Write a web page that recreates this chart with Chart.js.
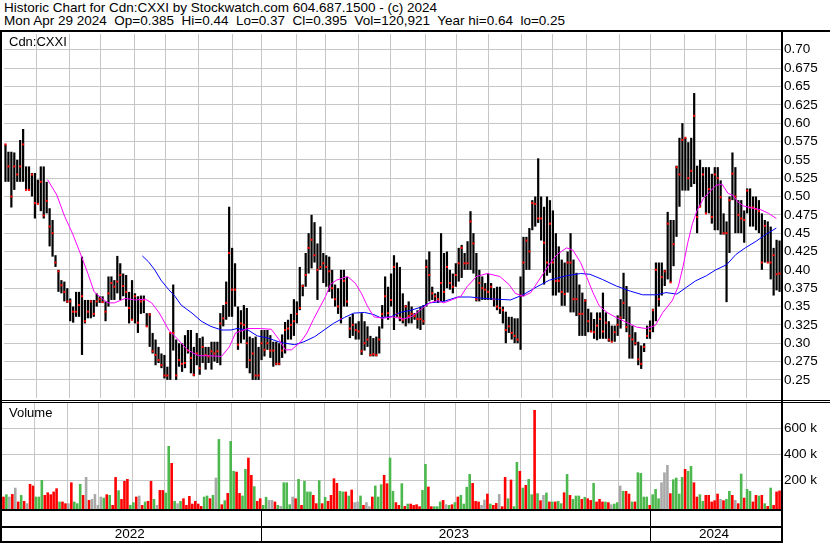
<!DOCTYPE html>
<html><head><meta charset="utf-8">
<script src="https://cdn.jsdelivr.net/npm/chart.js@4.4.1/dist/chart.umd.min.js"></script>
<style>
html,body{margin:0;padding:0;background:#fff;}
body{width:830px;height:543px;position:relative;overflow:hidden;font-family:"Liberation Sans",Arial,sans-serif;color:#000;}
.hd{position:absolute;left:4px;font-size:13.5px;line-height:13px;white-space:pre;}
.lab{position:absolute;left:9px;font-size:13px;line-height:13px;white-space:pre;}
.ln{position:absolute;background:#000;}
canvas{position:absolute;left:0;}
</style></head><body>
<div class="hd" style="top:1px">Historic Chart for Cdn:CXXI by Stockwatch.com 604.687.1500 - (c) 2024</div>
<div class="hd" style="top:14px">Mon Apr 29 2024  Op=0.385  Hi=0.44  Lo=0.37  Cl=0.395  Vol=120,921  Year hi=0.64  lo=0.25</div>
<canvas id="pc" width="830" height="372" style="top:30px"></canvas>
<canvas id="vc" width="830" height="141" style="top:402px"></canvas>
<div class="lab" style="top:35px">Cdn:CXXI</div>
<div class="lab" style="top:406px">Volume</div>
<div class="ln" style="left:0;top:30px;width:830px;height:2px"></div>
<div class="ln" style="left:0;top:30px;width:2px;height:513px"></div>
<div class="ln" style="left:781px;top:30px;width:2px;height:513px"></div>
<div class="ln" style="left:0;top:400px;width:830px;height:1px"></div>
<div class="ln" style="left:0;top:402px;width:830px;height:1px"></div>
<div class="ln" style="left:0;top:509px;width:783px;height:2px"></div>
<div class="ln" style="left:0;top:526px;width:783px;height:2px"></div>
<div class="ln" style="left:0;top:541px;width:783px;height:2px"></div>
<script>
// ---- time axis (trading sessions) ----
const sessionsTotal = 500;
const monthStarts = [21,42,62,84,104,125,147,166,188,207,228,249,271,291,312,333,353,375,396,416,438,458,478];
const yearStarts = [0,166,416];
const yearLabels = ['2022','2023','2024'];

// ---- price axis ticks ----
const priceTicks = [0.25,0.275,0.30,0.325,0.35,0.375,0.40,0.425,0.45,0.475,0.50,0.525,0.55,0.575,0.60,0.625,0.65,0.675,0.70];
const priceTickLabels = ['0.25','0.275','0.30','0.325','0.35','0.375','0.40','0.425','0.45','0.475','0.50','0.525','0.55','0.575','0.60','0.625','0.65','0.675','0.70'];
const volTicks = [200,400,600];
const volTickLabels = ['200 k','400 k','600 k'];

// ---- price bars (each bar spans an equal slice of the sessions) ----
const high = [
.571,.561,.561,.56,.55,.577,.592,.541,.541,.532,.532,
.523,.541,.541,.52,.484,.468,.42,.40,.386,.384,.375,
.361,.35,.37,.37,.418,.359,.359,.359,.359,.368,.364,
.364,.357,.391,.391,.386,.419,.409,.395,.393,.37,.386,
.368,.364,.365,.365,.341,.341,.314,.305,.295,.286,.284,
.268,.314,.38,.305,.30,.30,.311,.318,.318,.295,.314,
.307,.309,.295,.295,.302,.302,.302,.341,.352,.384,.486,
.43,.409,.35,.345,.352,.348,.309,.307,.309,.295,.318,
.318,.318,.311,.302,.302,.30,.312,.329,.332,.34,.36,
.357,.404,.38,.423,.45,.475,.465,.436,.459,.423,.42,
.418,.40,.38,.375,.40,.40,.39,.336,.34,.327,.33,
.341,.33,.323,.31,.307,.309,.323,.352,.391,.377,.395,
.42,.41,.404,.368,.352,.357,.35,.341,.345,.35,.352,
.414,.425,.377,.368,.37,.45,.423,.425,.40,.395,.409,
.43,.434,.423,.439,.48,.45,.423,.40,.391,.382,.395,
.382,.375,.377,.377,.35,.343,.336,.336,.334,.334,.391,
.445,.445,.457,.495,.50,.552,.50,.486,.50,.495,.481,
.45,.432,.414,.41,.425,.45,.414,.396,.38,.369,.36,
.347,.342,.333,.342,.342,.369,.342,.33,.324,.324,.338,
.36,.396,.378,.35,.324,.315,.302,.297,.30,.324,.331,
.347,.41,.41,.41,.40,.479,.468,.468,.542,.58,.60,
.58,.574,.58,.641,.542,.55,.54,.54,.54,.531,.54,
.54,.522,.477,.466,.50,.56,.54,.495,.495,.481,.511,
.511,.50,.50,.495,.477,.468,.466,.459,.43,.441,.44];
const low = [
.52,.52,.485,.509,.52,.52,.52,.509,.508,.50,.47,
.491,.48,.47,.477,.432,.418,.404,.37,.368,.357,.355,
.33,.328,.336,.336,.284,.327,.334,.334,.336,.35,.355,
.355,.33,.35,.359,.359,.368,.359,.364,.35,.327,.332,
.327,.314,.34,.341,.323,.295,.286,.27,.273,.266,.252,
.25,.25,.29,.25,.268,.261,.266,.286,.259,.255,.27,
.257,.273,.264,.273,.264,.275,.273,.27,.323,.332,.336,
.336,.35,.291,.30,.305,.266,.259,.25,.25,.25,.277,
.282,.291,.28,.268,.27,.27,.28,.286,.305,.305,.31,
.327,.345,.364,.377,.395,.402,.41,.359,.40,.382,.377,
.37,.361,.35,.34,.327,.35,.35,.307,.31,.305,.305,
.284,.29,.295,.282,.282,.282,.286,.32,.336,.332,.35,
.318,.336,.33,.327,.323,.327,.327,.332,.32,.318,.325,
.35,.357,.359,.357,.355,.357,.357,.375,.373,.368,.377,
.384,.389,.40,.40,.40,.395,.357,.357,.359,.359,.359,
.359,.35,.345,.34,.327,.30,.314,.305,.30,.30,.291,
.364,.40,.40,.454,.459,.464,.44,.38,.392,.396,.365,
.365,.369,.351,.351,.369,.342,.342,.337,.31,.31,.31,
.315,.315,.306,.304,.306,.306,.306,.302,.302,.302,.31,
.32,.333,.315,.279,.279,.297,.27,.265,.288,.306,.306,
.315,.33,.35,.365,.378,.387,.383,.405,.445,.486,.508,
.508,.508,.513,.517,.45,.486,.499,.477,.477,.463,.454,
.454,.448,.448,.356,.423,.495,.45,.45,.45,.437,.477,
.459,.459,.454,.45,.40,.41,.41,.387,.365,.372,.37];
const close = [
.571,.541,.50,.541,.53,.541,.571,.509,.509,.53,.491,
.49,.52,.474,.494,.459,.45,.41,.398,.379,.37,.357,
.357,.343,.343,.352,.364,.33,.343,.357,.34,.357,.36,
.356,.343,.368,.382,.377,.384,.393,.378,.37,.348,.332,
.364,.328,.357,.359,.323,.339,.289,.284,.277,.27,.256,
.256,.314,.314,.256,.277,.272,.273,.29,.28,.257,.286,
.266,.295,.284,.282,.289,.286,.289,.327,.334,.355,.423,
.373,.373,.298,.327,.325,.30,.277,.286,.256,.256,.30,
.291,.30,.29,.29,.272,.272,.29,.318,.32,.325,.33,
.34,.348,.378,.393,.43,.441,.42,.40,.404,.409,.404,
.398,.375,.36,.35,.333,.385,.357,.32,.325,.318,.316,
.289,.30,.305,.284,.285,.284,.305,.34,.364,.341,.359,
.404,.34,.335,.332,.35,.337,.34,.337,.333,.333,.33,
.404,.393,.368,.364,.36,.382,.37,.404,.382,.377,.393,
.409,.43,.409,.409,.466,.436,.36,.382,.375,.373,.37,
.377,.36,.35,.348,.345,.318,.323,.314,.31,.305,.365,
.41,.44,.425,.491,.49,.47,.47,.437,.41,.463,.41,
.385,.385,.37,.367,.41,.41,.36,.36,.34,.34,.358,
.33,.316,.315,.324,.333,.316,.328,.305,.302,.315,.325,
.335,.355,.322,.31,.305,.30,.278,.272,.295,.31,.317,
.345,.40,.36,.39,.398,.463,.383,.435,.54,.53,.577,
.58,.525,.535,.61,.472,.486,.53,.477,.51,.472,.53,
.525,.499,.45,.45,.495,.531,.50,.475,.47,.468,.508,
.485,.485,.483,.48,.41,.46,.41,.41,.42,.394,.395];

// ---- volume (thousands) and up/down/unchanged flag ----
const volumeK = [74,92,74,94,143,36,87,41,23,172,
159,74,74,202,87,107,92,113,138,36,
36,23,23,184,36,23,172,87,225,48,
56,94,10,74,66,92,87,10,225,123,
56,195,210,10,31,74,82,10,36,41,
195,56,10,125,125,105,464,333,41,23,
41,61,10,79,20,41,20,2,74,82,
61,87,220,517,15,46,102,502,272,266,
102,82,287,374,241,154,41,61,10,72,
48,48,36,10,2,184,184,15,74,61,
210,10,195,113,113,87,23,200,23,72,
41,87,215,179,118,113,113,82,128,31,
36,82,10,31,0,74,159,74,169,241,
177,374,118,31,10,177,2,20,20,10,
15,0,125,325,151,0,0,0,36,48,
15,10,15,31,74,87,20,149,248,179,
41,36,10,51,97,20,10,25,94,0,
225,61,205,0,341,272,143,164,210,92,
741,100,46,87,105,36,36,36,41,23,
107,248,87,56,82,82,56,72,61,48,
179,36,56,36,36,31,15,20,31,159,
118,118,97,36,36,261,256,74,74,10,
92,133,61,184,261,318,100,207,220,97,
225,287,272,310,184,74,92,41,87,87,
36,46,97,56,46,56,118,87,48,23,
251,66,133,118,36,87,82,87,23,2,
143,10,113,121];
const volumeDir = ("rgnrnrgrnr"+"rgggrrrrrg"+"rrnrgggrnr"+"nnnngrgrrg"+"rrrggrnrgr"+"rgnrrggrgn"+"grrrrrrrgg"+"rgngrgrggr"+"rggrrgrrgg"+"nnrgngggnr"+
"grgggrrgrg"+"rrrrggrgrn"+"ngrnnrgggr"+"rggrrgrgrr"+"rrggrrgggr"+"ngrgrggggr"+"rrnnrgrrnr"+"rgrggrgrgg"+"rgrngrgrgg"+"rgrgggrgrr"+
"grrrgrnggn"+"grrgrggggr"+"gggnnnrggg"+"grggrrggrr"+"rrrnrggrnr"+"grggrrgrgr"+"grrr").split('');

// ---- moving averages (session, value) ----
const maShortDay = [28,34,39,44,49,54,58,63,67,71,78,84,91,95,100,106,112,118,125,131,140,145,149,157,165,172,177,181,185,191,195,199,203,207,210,214,221,226,230,234,238,244,250,257,262,266,270,274,279,283,288,294,298,304,311,319,325,329,334,339,343,348,351,356,362,366,371,375,379,383,388,394,400,407,413,419,424,430,434,437,440,443,446,450,454,458,462,466,469,472,476,482,487,492,497];
const maShortVal = [.523,.502,.473,.45,.423,.395,.37,.361,.355,.355,.361,.359,.36,.355,.341,.318,.305,.291,.283,.283,.282,.295,.314,.32,.32,.319,.305,.291,.291,.302,.314,.332,.348,.364,.38,.386,.391,.382,.368,.35,.336,.334,.336,.333,.336,.342,.349,.355,.358,.355,.359,.364,.377,.391,.395,.391,.38,.368,.364,.369,.382,.398,.408,.421,.43,.427,.41,.39,.369,.351,.342,.335,.329,.322,.32,.324,.342,.358,.378,.405,.437,.463,.481,.497,.506,.515,.517,.504,.502,.493,.487,.484,.482,.477,.47];
const maLongDay = [89,93,97,101,106,110,114,121,127,133,140,146,150,157,163,170,178,187,193,200,206,212,219,225,232,238,242,249,255,262,268,274,283,292,300,309,317,326,334,343,351,362,371,377,385,394,403,411,420,426,433,439,445,452,458,465,471,477,484,490,497];
const maLongVal = [.419,.411,.40,.386,.373,.364,.352,.341,.33,.323,.318,.318,.32,.318,.31,.307,.301,.298,.302,.309,.318,.327,.335,.341,.342,.339,.335,.336,.342,.345,.349,.355,.357,.363,.363,.361,.36,.359,.366,.377,.386,.392,.395,.394,.387,.378,.371,.366,.366,.369,.367,.376,.385,.392,.40,.407,.421,.43,.439,.448,.457];

// ---- build ----
const FONT = "'Liberation Sans', Arial, sans-serif";
Chart.defaults.font.family = FONT;
const GRID = '#c6c6c6';
const dirColor = {g:'#4db84d', r:'#ff0000', n:'#a8a8a8'};
const step = sessionsTotal / high.length;
const barData = high.map((h,i)=>({x:(i+0.5)*step, y:[low[i], h]}));
const closeData = close.map((c,i)=>({x:(i+0.5)*step, y:c}));
const volData = volumeK.map((v,i)=>({x:(i+0.5)*step, y:v}));
const maShort = maShortDay.map((d,i)=>({x:d, y:maShortVal[i]}));
const maLong = maLongDay.map((d,i)=>({x:d, y:maLongVal[i]}));

function timeScale(){
  return {type:'linear', min:0, max:sessionsTotal, offset:false,
    afterBuildTicks:s=>{ s.ticks = monthStarts.map(v=>({value:v})); },
    ticks:{display:false}, grid:{color:GRID, drawTicks:false, lineWidth:1, offset:false},
    border:{display:false},
    afterFit:s=>{ s.height=0; s.paddingLeft=0; s.paddingRight=0; }};
}
function valueScale(min,max,ticks,labels){
  return {type:'linear', position:'right', min:min, max:max,
    afterBuildTicks:s=>{ s.ticks = ticks.map(v=>({value:v})); },
    ticks:{padding:3, color:'#000', font:{size:13.5, family:FONT}, callback:(v,i)=>labels[i]},
    grid:{color:GRID, drawTicks:false, lineWidth:1}, border:{display:false},
    afterFit:s=>{ s.width=49; s.paddingTop=0; s.paddingBottom=0; }};
}
const common = {responsive:false, animation:false, events:[],
  plugins:{legend:{display:false}, tooltip:{enabled:false}}};

new Chart(document.getElementById('pc'), {
  type:'bar',
  data:{datasets:[
    {type:'line', data:maShort, borderColor:'#ff00ff', borderWidth:1, pointRadius:0, tension:0, order:0},
    {type:'line', data:maLong, borderColor:'#0000ff', borderWidth:1, pointRadius:0, tension:0, order:0},
    {type:'line', data:closeData, showLine:false, pointStyle:'rect', pointRadius:1.45,
      pointBackgroundColor:'#ff0000', pointBorderWidth:0, borderWidth:0, order:1},
    {type:'bar', data:barData, backgroundColor:'#000000', barThickness:2.2, grouped:false, inflateAmount:0, order:2}
  ]},
  options:Object.assign({}, common, {
    layout:{padding:{left:2, top:2, bottom:2, right:0}},
    scales:{x:timeScale(), y:valueScale(0.22533, 0.72149, priceTicks, priceTickLabels)}
  })
});

const yearBand = {id:'yearBand', afterDraw(chart){
  const {ctx, chartArea} = chart; const xs = chart.scales.x;
  ctx.save();
  ctx.fillStyle = '#000';
  yearStarts.slice(1).forEach(s=>{
    const px = Math.round(xs.getPixelForValue(s));
    ctx.fillRect(px, chartArea.bottom, 1, chart.height - chartArea.bottom);
  });
  ctx.font = '13.5px ' + FONT; ctx.textAlign = 'center'; ctx.textBaseline = 'middle';
  yearLabels.forEach((lab,i)=>{
    const a = yearStarts[i], b = i+1 < yearStarts.length ? yearStarts[i+1] : sessionsTotal;
    ctx.fillText(lab, xs.getPixelForValue((a+b)/2) - 1.5, chart.height - 8.5);
  });
  ctx.restore();
}};

new Chart(document.getElementById('vc'), {
  type:'bar',
  data:{datasets:[{data:volData, backgroundColor:volumeDir.map(c=>dirColor[c]),
    barThickness:2.6, grouped:false, inflateAmount:0, base:-20.8}]},
  options:Object.assign({}, common, {
    layout:{padding:{left:2, top:1, bottom:34, right:0}},
    scales:{x:timeScale(), y:valueScale(-20.8, 794.6, volTicks, volTickLabels)}
  }),
  plugins:[yearBand]
});
</script>
</body></html>
